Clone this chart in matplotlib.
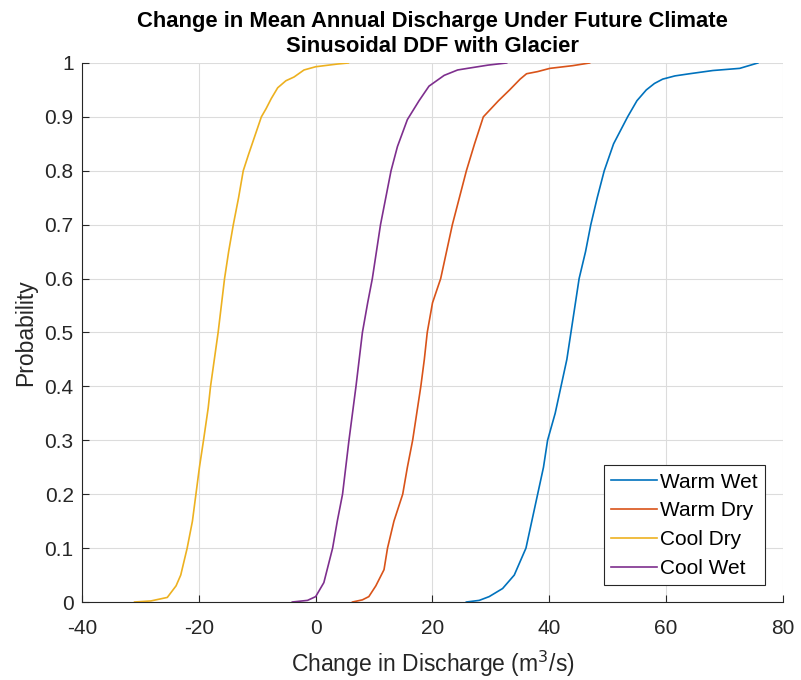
import matplotlib
matplotlib.use("Agg")
import matplotlib.pyplot as plt

plt.rcParams['font.family'] = ['Liberation Sans', 'DejaVu Sans']
plt.rcParams['axes.unicode_minus'] = False

# Empirical CDF readings: (change in discharge, probability)
warm_wet_x = [25.8, 28.0, 29.7, 32.0, 34.0, 36.0, 37.0, 38.0, 39.0, 39.7, 41.0, 42.0, 43.0, 43.7, 44.4, 45.1, 46.2, 47.1, 48.2, 49.4, 51.0, 53.4, 55.0, 56.6, 58.0, 59.4, 61.5, 64.0, 68.0, 72.6, 75.7]
warm_wet_p = [0.0, 0.003, 0.01, 0.025, 0.05, 0.1, 0.15, 0.2, 0.25, 0.3, 0.35, 0.4, 0.45, 0.5, 0.55, 0.6, 0.65, 0.7, 0.75, 0.8, 0.85, 0.9, 0.93, 0.95, 0.962, 0.97, 0.976, 0.98, 0.986, 0.99, 1.0]

warm_dry_x = [6.3, 8.0, 9.1, 10.3, 11.7, 12.3, 13.4, 14.9, 15.7, 16.6, 17.3, 18.0, 18.6, 19.1, 20.0, 21.4, 22.4, 23.4, 24.6, 25.8, 27.2, 28.7, 30.0, 31.3, 33.2, 35.0, 36.1, 38.0, 40.1, 44.0, 46.9]
warm_dry_p = [0.0, 0.004, 0.01, 0.03, 0.06, 0.1, 0.15, 0.2, 0.25, 0.3, 0.35, 0.4, 0.45, 0.5, 0.555, 0.6, 0.65, 0.7, 0.75, 0.8, 0.85, 0.9, 0.915, 0.93, 0.95, 0.97, 0.98, 0.984, 0.99, 0.995, 1.0]

cool_dry_x = [-31.0, -28.2, -25.4, -23.9, -23.1, -22.0, -21.1, -20.5, -19.9, -19.2, -18.4, -18.0, -16.7, -15.6, -14.9, -14.1, -13.2, -12.4, -11.5, -10.4, -9.3, -8.5, -7.6, -6.5, -5.1, -3.7, -2.0, 0.0, 3.7, 5.6]
cool_dry_p = [0.0, 0.002, 0.0085, 0.03, 0.05, 0.1, 0.15, 0.2, 0.25, 0.3, 0.36, 0.4, 0.5, 0.6, 0.65, 0.7, 0.75, 0.8, 0.83, 0.865, 0.9, 0.915, 0.934, 0.954, 0.967, 0.974, 0.987, 0.993, 0.998, 1.0]

cool_wet_x = [-4.0, -1.4, 0.0, 1.4, 2.9, 3.7, 4.6, 5.7, 6.9, 8.0, 8.9, 9.7, 11.1, 12.0, 12.9, 14.0, 15.7, 17.7, 19.4, 22.0, 24.3, 26.0, 29.5, 32.7]
cool_wet_p = [0.0, 0.003, 0.01, 0.036, 0.1, 0.15, 0.2, 0.3, 0.4, 0.5, 0.555, 0.6, 0.7, 0.75, 0.8, 0.845, 0.895, 0.93, 0.957, 0.977, 0.987, 0.99, 0.996, 1.0]

labels = ['Warm Wet', 'Warm Dry', 'Cool Dry', 'Cool Wet']
colors = ['#0072BD', '#D95319', '#EDB120', '#7E2F8E']

fig = plt.figure(figsize=(8.01, 6.80), dpi=100)
ax = fig.add_axes([0.1024, 0.1147, 0.8751, 0.7927])

series = [(warm_wet_x, warm_wet_p), (warm_dry_x, warm_dry_p),
          (cool_dry_x, cool_dry_p), (cool_wet_x, cool_wet_p)]
for (xs, ps), lab, c in zip(series, labels, colors):
    ax.plot(xs, ps, color=c, lw=1.2, label=lab)

ax.set_xlim(-40, 80)
ax.set_ylim(0, 1)
ax.set_xticks(range(-40, 81, 20))
ax.set_yticks([i / 10 for i in range(11)])
ax.set_yticklabels(['0', '0.1', '0.2', '0.3', '0.4', '0.5', '0.6', '0.7', '0.8', '0.9', '1'])
ax.grid(True, color='#dcdcdc', lw=0.8)
ax.set_axisbelow(True)
for s in ['top', 'right']:
    ax.spines[s].set_visible(False)
for s in ['left', 'bottom']:
    ax.spines[s].set_color('#262626')
ax.tick_params(direction='in', length=5, labelsize=15, colors='#262626')
ax.tick_params(axis='x', pad=12)
ax.tick_params(axis='y', pad=6)

ax.set_xlabel('Change in Discharge (m$^3$/s)', fontsize=16.5, color='#262626', labelpad=8)
ax.set_ylabel('Probability', fontsize=16.5, color='#262626', labelpad=5)
ax.set_title('Change in Mean Annual Discharge Under Future Climate\nSinusoidal DDF with Glacier',
             fontsize=15.8, fontweight='bold', pad=8, linespacing=1.25)

leg = ax.legend(loc='lower right', bbox_to_anchor=(0.974, 0.031), fontsize=15, fancybox=False,
                edgecolor='#262626', framealpha=1, handlelength=2.2, handletextpad=0.15,
                borderpad=0.35, labelspacing=0.47, borderaxespad=0)
leg.get_frame().set_linewidth(0.8)

fig.savefig('out.png', dpi=100)
